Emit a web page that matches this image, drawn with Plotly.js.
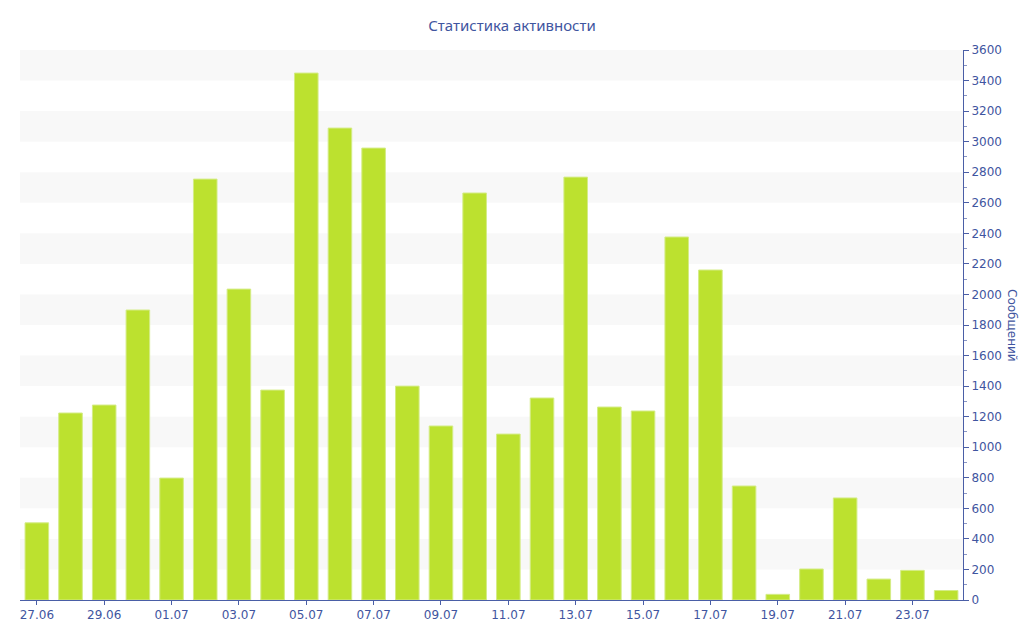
<!DOCTYPE html>
<html>
<head>
<meta charset="utf-8">
<script src="https://cdn.plot.ly/plotly-3.0.1.min.js"></script>
<style>
  html, body { margin: 0; padding: 0; background: #fff; }
  #plot { width: 1024px; height: 640px; }
</style>
</head>
<body>
<div id="plot"></div>
<script>
// days shown on the x axis
var days = ["27.06", "28.06", "29.06", "30.06", "01.07", "02.07", "03.07", "04.07",
            "05.07", "06.07", "07.07", "08.07", "09.07", "10.07", "11.07", "12.07",
            "13.07", "14.07", "15.07", "16.07", "17.07", "18.07", "19.07", "20.07",
            "21.07", "22.07", "23.07", "24.07"];
// messages per day
var messages = [505, 1224, 1276, 1898, 798, 2755, 2035, 1374,
                3449, 3089, 2958, 1400, 1139, 2664, 1086, 1322,
                2768, 1263, 1237, 2376, 2160, 746, 37, 203,
                668, 137, 194, 62];
var labeledDays = ["27.06", "29.06", "01.07", "03.07", "05.07", "07.07", "09.07",
                   "11.07", "13.07", "15.07", "17.07", "19.07", "21.07", "23.07"];
var yMax = 3600;

var axisColor = "#4a5ea6";
var textColor = "#3f55a0";

// alternating bands behind the bars
var bands = [];
for (var b = 200; b < yMax; b += 400) {
  bands.push({
    type: "rect", xref: "paper", yref: "y", layer: "below",
    x0: 0, x1: 1, y0: b, y1: b + 200,
    fillcolor: "#f8f8f8", line: {width: 0}
  });
}

var trace = {
  type: "bar",
  x: days,
  y: messages,
  marker: {color: "#bce12f", line: {color: "#d4ec86", width: 1}},
  hoverinfo: "x+y"
};

var layout = {
  width: 1024,
  height: 640,
  margin: {l: 20, r: 61, t: 50, b: 40},
  paper_bgcolor: "#ffffff",
  plot_bgcolor: "#ffffff",
  bargap: 0.3,
  showlegend: false,
  font: {family: "DejaVu Sans, Verdana, sans-serif", size: 12, color: textColor},
  title: {
    text: "Статистика активности",
    font: {family: "Noto Sans, sans-serif", size: 15, color: textColor},
    x: 0.5, xanchor: "center", y: 0.96, yanchor: "middle"
  },
  xaxis: {
    type: "category",
    range: [-0.5, days.length - 0.5],
    tickmode: "array",
    tickvals: labeledDays,
    ticktext: labeledDays,
    ticks: "outside", ticklen: 4, tickcolor: axisColor,
    showline: true, linecolor: axisColor, linewidth: 1,
    showgrid: false, zeroline: false,
    tickfont: {size: 12, color: textColor}
  },
  yaxis: {
    side: "right",
    range: [0, yMax],
    dtick: 200,
    ticks: "outside", ticklen: 5, tickcolor: axisColor,
    minor: {dtick: 100, ticks: "outside", ticklen: 3, tickcolor: "#8a96c4"},
    showline: true, linecolor: axisColor, linewidth: 1,
    showgrid: false, zeroline: false,
    tickfont: {size: 12, color: textColor}
  },
  shapes: bands,
  annotations: [{
    text: "Сообщений",
    xref: "paper", yref: "paper",
    x: 1, y: 0.5, xshift: 49,
    xanchor: "center", yanchor: "middle",
    textangle: 90, showarrow: false,
    font: {size: 12, color: textColor}
  }]
};

Plotly.newPlot("plot", [trace], layout, {displayModeBar: false});
</script>
</body>
</html>
